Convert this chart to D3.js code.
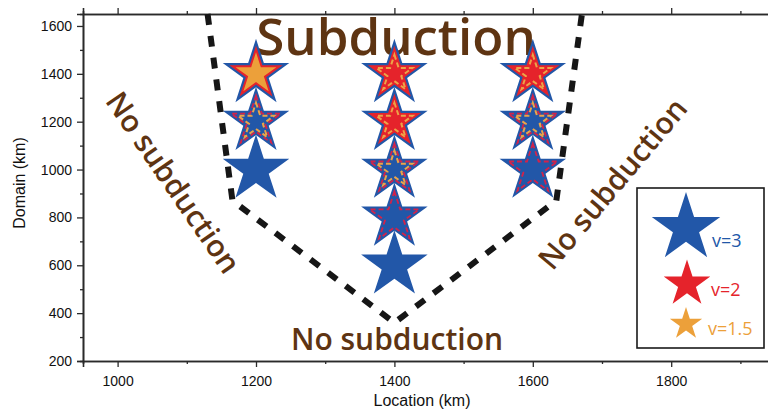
<!DOCTYPE html>
<html>
<head>
<meta charset="utf-8">
<script src="https://cdn.jsdelivr.net/npm/d3@7"></script>
<style>
  html, body { margin: 0; padding: 0; background: #fff; }
  svg { display: block; }
</style>
</head>
<body>
<svg id="chart" width="768" height="412"></svg>
<script>
// Model runs: trench location vs. domain size, coloured by convergence velocity
const locations = [1200, 1200, 1200, 1400, 1400, 1400, 1400, 1400, 1600, 1600, 1600];
const domains   = [1400, 1200, 1000, 1400, 1200, 1000,  800,  600, 1400, 1200, 1000];
// v=3 always subducts; v=2 / v=1.5 outcome: full subduction, marginal, or none
const v2State   = ['fill', 'dash', 'none', 'fill', 'fill', 'dash', 'dash', 'none', 'fill', 'dash', 'dash'];
const v15State  = ['fill', 'dash', 'none', 'dash', 'dash', 'dash', 'none', 'none', 'dash', 'dash', 'none'];

// Subduction / no-subduction boundary
const boundaryX = [1130, 1166, 1400, 1634, 1671];
const boundaryY = [1650,  870,  360,  870, 1650];

const xTicks = [1000, 1200, 1400, 1600, 1800];
const yTicks = [200, 400, 600, 800, 1000, 1200, 1400, 1600];
const xMinor = [1100, 1300, 1500, 1700, 1900];
const yMinor = [300, 500, 700, 900, 1100, 1300, 1500];

const legendLabels = ['v=3', 'v=2', 'v=1.5'];

const BLUE = '#2257a8', RED = '#e5232b', ORANGE = '#eca03a', BROWN = '#5e3412';
const legendColors = [BLUE, RED, ORANGE];

const svg = d3.select('#chart');
const plotL = 83, plotT = 14, plotB = 361, plotR = 775;

const x = d3.scaleLinear().domain([950, 1950]).range([plotL, plotR]);
const y = d3.scaleLinear().domain([200, 1650]).range([plotB, plotT]);

const tickFont = '"Liberation Sans", Arial, Helvetica, sans-serif';
const labelFont = '"Open Sans", "Noto Sans", sans-serif';

// ---- axes ----
function styleAxis(g) {
  g.selectAll('path.domain').attr('stroke', '#2a2a2a').attr('stroke-width', 1.6);
  g.selectAll('.tick line').attr('stroke', '#2a2a2a').attr('stroke-width', 1.3);
  g.selectAll('.tick text').attr('font-family', tickFont).attr('font-size', 14).attr('fill', '#111');
}

const gx = svg.append('g').attr('transform', `translate(0,${plotB})`)
  .call(d3.axisBottom(x).tickValues(xTicks).tickFormat(d3.format('d')).tickSizeOuter(0).tickSize(6).tickPadding(9));
styleAxis(gx);
const gxm = svg.append('g').attr('transform', `translate(0,${plotB})`)
  .call(d3.axisBottom(x).tickValues(xMinor).tickFormat('').tickSizeOuter(0).tickSize(3));
styleAxis(gxm);

const gt = svg.append('g').attr('transform', `translate(0,${plotT})`)
  .call(d3.axisTop(x).tickValues(xTicks).tickFormat('').tickSizeOuter(0).tickSize(6));
styleAxis(gt);
const gtm = svg.append('g').attr('transform', `translate(0,${plotT})`)
  .call(d3.axisTop(x).tickValues(xMinor).tickFormat('').tickSizeOuter(0).tickSize(3));
styleAxis(gtm);

const gy = svg.append('g').attr('transform', `translate(${plotL},0)`)
  .call(d3.axisLeft(y).tickValues(yTicks).tickFormat(d3.format('d')).tickSizeOuter(0).tickSize(6).tickPadding(5));
styleAxis(gy);
const gym = svg.append('g').attr('transform', `translate(${plotL},0)`)
  .call(d3.axisLeft(y).tickValues(yMinor).tickFormat('').tickSizeOuter(0).tickSize(3));
styleAxis(gym);

svg.append('text').attr('x', 422).attr('y', 406).attr('text-anchor', 'middle')
  .attr('font-family', tickFont).attr('font-size', 16).attr('fill', '#111').text('Location (km)');
svg.append('text').attr('transform', 'translate(25,183) rotate(-90)').attr('text-anchor', 'middle')
  .attr('font-family', tickFont).attr('font-size', 16).attr('fill', '#111').text('Domain (km)');

// ---- region labels ----
const region = (sel) => sel.attr('font-family', labelFont).attr('font-weight', 600)
  .attr('fill', BROWN).attr('text-anchor', 'middle');
region(svg.append('text')).attr('x', 396).attr('y', 55).attr('font-size', 51).text('Subduction');
region(svg.append('text')).attr('x', 397).attr('y', 350).attr('font-size', 30).text('No subduction');
region(svg.append('text')).attr('transform', 'translate(174,182) rotate(55.5)')
  .attr('dominant-baseline', 'central').attr('font-size', 30).text('No subduction');
region(svg.append('text')).attr('transform', 'translate(612,183) rotate(-50)')
  .attr('dominant-baseline', 'central').attr('font-size', 30).text('No subduction');

// ---- stars ----
const KA = 0.8908130915292852; // d3.symbolStar radius constant
const star = r => d3.symbol().type(d3.symbolStar).size(r * r / KA)();

const runs = locations.map((loc, i) => ({ loc, dom: domains[i], v2: v2State[i], v15: v15State[i] }));
// draw lower runs first so the stars above sit on top
runs.sort((a, b) => a.dom - b.dom);

const gStars = svg.append('g');
runs.forEach(d => {
  const g = gStars.append('g').attr('transform', `translate(${x(d.loc)},${y(d.dom)})`);
  g.append('path').attr('d', star(35)).attr('fill', BLUE);
  if (d.v2 === 'fill') {
    g.append('path').attr('d', star(28)).attr('fill', RED);
  } else if (d.v2 === 'dash') {
    g.append('path').attr('d', star(26)).attr('fill', 'none').attr('stroke', '#d2234a')
      .attr('stroke-width', 1.8).attr('stroke-dasharray', '5,3');
  }
  if (d.v15 === 'fill') {
    g.append('path').attr('d', star(21.5)).attr('fill', ORANGE);
  } else if (d.v15 === 'dash') {
    g.append('path').attr('d', star(19)).attr('fill', 'none').attr('stroke', '#eca448')
      .attr('stroke-width', 2).attr('stroke-dasharray', '5,3');
  }
});

// ---- boundary ----
const boundary = boundaryX.map((bx, i) => [bx, boundaryY[i]]);
svg.append('path').datum(boundary)
  .attr('d', d3.line().x(d => x(d[0])).y(d => y(d[1])))
  .attr('fill', 'none').attr('stroke', '#161616').attr('stroke-width', 6)
  .attr('stroke-dasharray', '11,11');

// ---- legend ----
const lg = svg.append('g');
lg.append('rect').attr('x', 637).attr('y', 188).attr('width', 127).attr('height', 160)
  .attr('fill', '#fff').attr('stroke', '#1a1a1a').attr('stroke-width', 1.6);
const legendR = [36, 24.5, 17];
const legendCY = [228, 284, 324];
const legendCX = [686, 687, 686];
const legendTextX = [712, 711, 708];
const legendTextY = [247, 296, 335];
legendLabels.forEach((lab, i) => {
  lg.append('path').attr('transform', `translate(${legendCX[i]},${legendCY[i]})`)
    .attr('d', star(legendR[i])).attr('fill', legendColors[i]);
  lg.append('text').attr('x', legendTextX[i]).attr('y', legendTextY[i])
    .attr('font-family', labelFont).attr('font-size', 18).attr('fill', legendColors[i]).text(lab);
});
</script>
</body>
</html>
